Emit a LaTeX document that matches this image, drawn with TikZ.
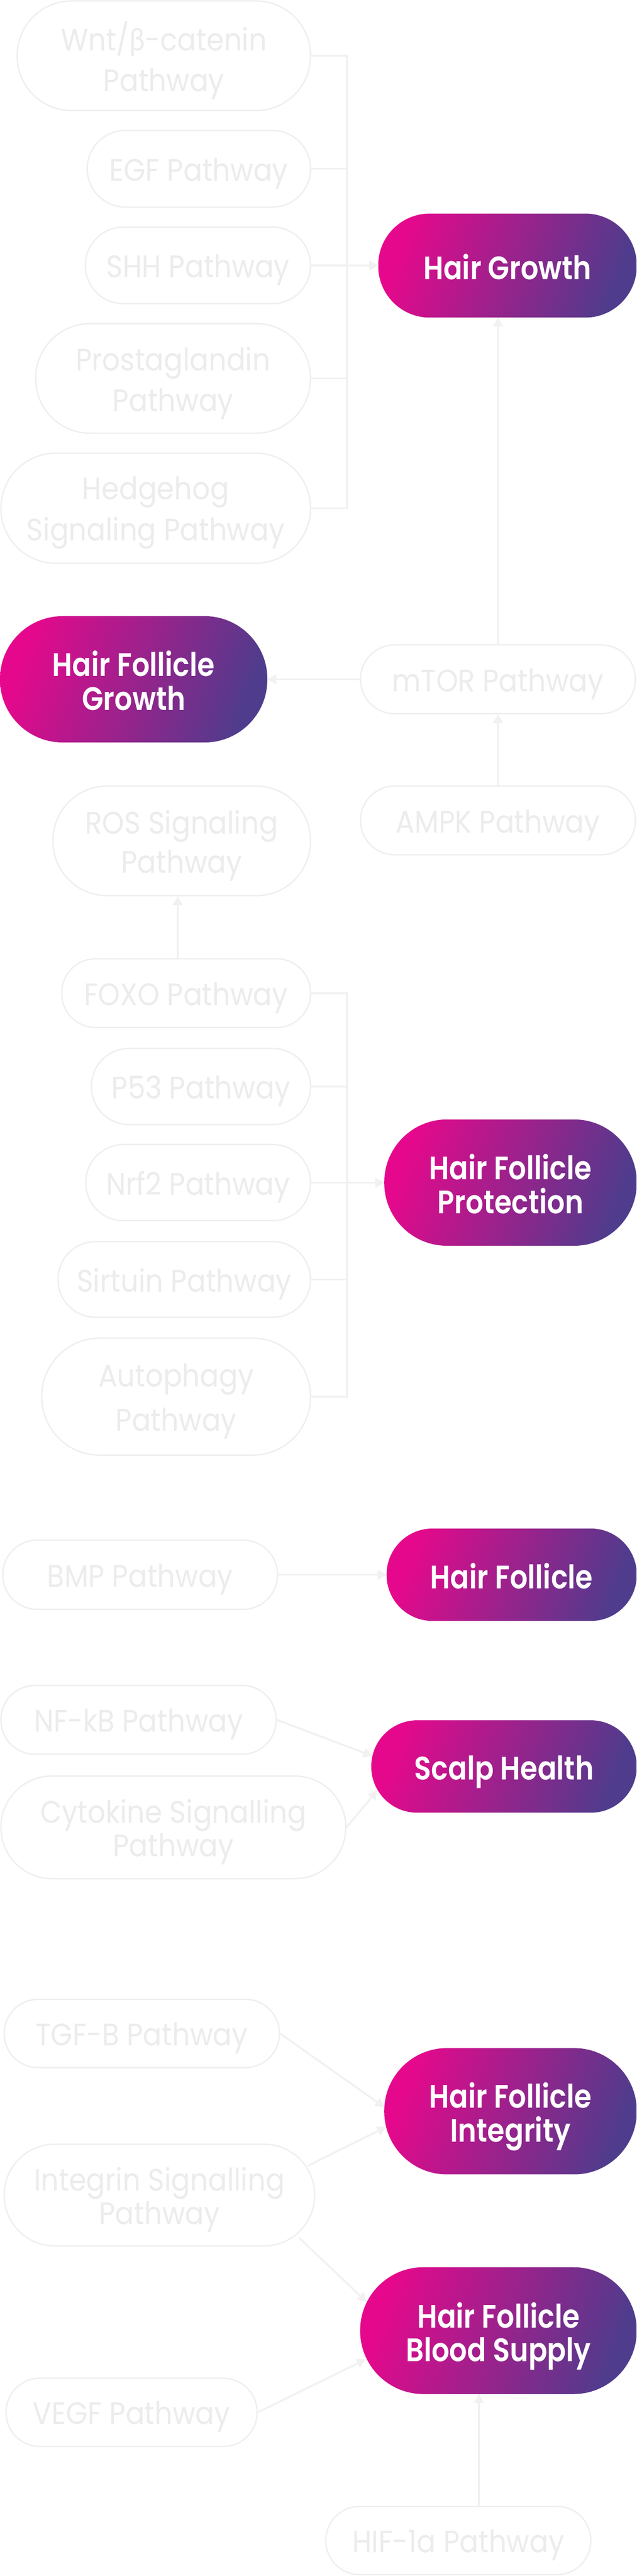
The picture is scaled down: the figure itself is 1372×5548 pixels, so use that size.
\documentclass[tikz,border=0pt]{standalone}
\usepackage{fontspec}
\usetikzlibrary{arrows.meta,calc}
\newfontfamily\pwfont{Poppins}[FakeStretch=0.9]
\newfontfamily\grfont{Poppins}[FakeStretch=0.86, BoldFont={* SemiBold}]
\newfontfamily\greekfont{Lato}[FakeStretch=0.9]
\newcommand\lowr[2]{\raisebox{-#1}[\height][\depth]{#2}}
\newcommand\pl[1]{\lowr{10pt}{#1}}
\newcommand\gl[1]{\lowr{3pt}{#1}}
\newcommand\gd[1]{\lowr{12pt}{#1}}
\definecolor{gpink}{HTML}{E6088C}
\definecolor{gindigo}{HTML}{4F3C8C}
\definecolor{pwborder}{RGB}{239,239,239}
\definecolor{pwtext}{RGB}{236,236,236}
\definecolor{linec}{RGB}{241,241,241}
\tikzset{
  pw/.style n args={3}{draw=pwborder, line width=3pt, rounded corners=#3,
    minimum width=#1, minimum height=#2, inner sep=0pt, align=center, text=pwtext},
  gr/.style n args={3}{rounded corners=#3, left color=gpink, right color=gindigo,
    shading angle=70, minimum width=#1, minimum height=#2, inner sep=0pt,
    align=center, text=white, font=\grfont\bfseries\fontsize{70}{73}\selectfont},
  lead/.style={font=\pwfont\fontsize{67}{#1}\selectfont},
  conn/.style={draw=linec, line width=4pt},
  arr/.style={conn, -{Triangle[length=19pt,width=21pt]}}
}
\begin{document}
\begin{tikzpicture}[x=1pt,y=-1pt]
\useasboundingbox (0,0) rectangle (1372,5548);
\fill[white] (0,0) rectangle (1372,5548);
% group 1
\node[pw={632pt}{236pt}{117pt}, lead=88] (wnt) at (353,120) {\pl{Wnt/{\greekfont β}-catenin}\\\pl{Pathway}};
\node[pw={481pt}{165pt}{82pt}, lead=88] (egf) at (428.5,363.5) {\pl{EGF Pathway}};
\node[pw={485pt}{165pt}{82pt}, lead=88] (shh) at (426.5,571.5) {\pl{SHH Pathway}};
\node[pw={592pt}{236pt}{117pt}, lead=88] (pros) at (373,815) {\pl{Prostaglandin}\\\pl{Pathway}};
\node[pw={667pt}{237pt}{118pt}, lead=88] (hedge) at (335.5,1094.5) {\pl{Hedgehog}\\\pl{Signaling Pathway}};
\node[gr={557pt}{224pt}{111pt}] (hg) at (1093.5,572) {\gl{Hair Growth}};
\coordinate (b1) at (748,0);
\draw[conn] (wnt.east) -- (wnt.east -| b1) -- (hedge.east -| b1) -- (hedge.east);
\draw[conn] (egf.east) -- (egf.east -| b1);
\draw[conn] (pros.east) -- (pros.east -| b1);
\draw[arr] (shh.east) -- (hg.west);
% group 2
\node[gr={576pt}{272pt}{135pt}] (hfg) at (288,1463) {\gl{Hair Follicle}\\\gl{Growth}};
\node[pw={592pt}{148pt}{73pt}, lead=85] (mtor) at (1073,1463) {\pl{mTOR Pathway}};
\node[pw={592pt}{148pt}{73pt}, lead=85] (ampk) at (1073,1767) {\pl{AMPK Pathway}};
\draw[arr] (mtor.west) -- (hfg.east);
\draw[arr] (ampk.north) -- (mtor.south);
\draw[arr] (mtor.north) -- (mtor.north |- hg.south);
% group 3
\node[pw={555pt}{236pt}{117pt}, lead=85] (ros) at (391.5,1811) {\pl{ROS Signaling}\\\pl{Pathway}};
\node[pw={536pt}{148pt}{73pt}, lead=85] (foxo) at (401,2139) {\pl{FOXO Pathway}};
\node[pw={472pt}{164pt}{81pt}, lead=85] (p53) at (433,2340) {\pl{P53 Pathway}};
\node[pw={484pt}{164pt}{81pt}, lead=85] (nrf) at (427,2547) {\pl{Nrf2 Pathway}};
\node[pw={544pt}{163pt}{81pt}, lead=85] (sirt) at (397,2755.5) {\pl{Sirtuin Pathway}};
\node[pw={579pt}{252pt}{125pt}, lead=95] (auto) at (379.5,3008) {\pl{Autophagy}\\\pl{Pathway}};
\node[gr={544pt}{272pt}{135pt}] (hfp) at (1100,2547) {\gl{Hair Follicle}\\\gl{Protection}};
\coordinate (fx) at (383,0);
\draw[arr] (foxo.north -| fx) -- (ros.south -| fx);
\draw[conn] (foxo.east) -- (foxo.east -| b1) -- (auto.east -| b1) -- (auto.east);
\draw[conn] (p53.east) -- (p53.east -| b1);
\draw[conn] (sirt.east) -- (sirt.east -| b1);
\draw[arr] (nrf.east) -- (hfp.west);
% group 4
\node[pw={592pt}{149pt}{74pt}, lead=72] (bmp) at (302,3391.5) {\pl{BMP Pathway}};
\node[gr={539pt}{199pt}{99pt}] (hf) at (1102.5,3391.5) {\gl{Hair Follicle}};
\draw[arr] (bmp.east) -- (hf.west);
\node[pw={593pt}{148pt}{73pt}, lead=72] (nfkb) at (298.5,3704) {\pl{NF-kB Pathway}};
\node[pw={743pt}{221pt}{110pt}, lead=72] (cyto) at (373.5,3935.5) {\pl{Cytokine Signalling}\\\pl{Pathway}};
\node[gr={572pt}{199pt}{99pt}] (scalp) at (1086,3804.5) {\gd{Scalp Health}};
\draw[arr] (nfkb.east) -- ($(scalp.west)+(2,-23)$);
\draw[arr] (cyto.east) -- ($(scalp.west)+(13,52)$);
% group 5
\node[pw={593pt}{147pt}{73pt}, lead=72] (tgf) at (305.5,4379.5) {\pl{TGF-B Pathway}};
\node[gr={544pt}{272pt}{135pt}] (hfi) at (1100,4547) {\gd{Hair Follicle}\\\gd{Integrity}};
\node[pw={669pt}{219pt}{109pt}, lead=72] (integ) at (343.5,4727.5) {\pl{Integrin Signalling}\\\pl{Pathway}};
\node[gr={596pt}{273pt}{136pt}] (hfbs) at (1074,5019.5) {\gd{Hair Follicle}\\\gd{Blood Supply}};
\node[pw={541pt}{147pt}{73pt}, lead=72] (vegf) at (283.5,5195.5) {\pl{VEGF Pathway}};
\node[pw={571pt}{147pt}{73pt}, lead=72] (hif) at (987.5,5471.5) {\pl{HIF-1a Pathway}};
\draw[arr] (tgf.east) -- ($(hfi.west)+(0,-9)$);
\draw[arr] ($(integ.east)+(-16,-63)$) -- ($(hfi.west)+(4,34)$);
\draw[arr] ($(integ.east)+(-35,92)$) -- ($(hfbs.west)+(14,-62)$);
\draw[arr] (vegf.east) -- ($(hfbs.west)+(12,62)$);
\coordinate (hx) at (1032,0);
\draw[arr] (hif.north -| hx) -- (hfbs.south -| hx);
\end{tikzpicture}
\end{document}
